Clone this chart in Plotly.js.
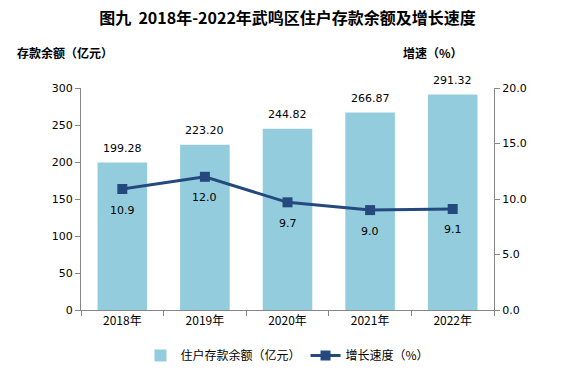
<!DOCTYPE html>
<html><head><meta charset="utf-8">
<script src="https://cdn.plot.ly/plotly-3.0.1.min.js"></script>
<style>body{margin:0;padding:0;background:#fff}#chart{width:575px;height:373px}</style>
</head><body><div id="chart"></div>
<script>
var years = ['2018年','2019年','2020年','2021年','2022年'];
var deposits = [199.28, 223.20, 244.82, 266.87, 291.32];
var growth = [10.9, 12.0, 9.7, 9.0, 9.1];

var cjk = '"Noto Sans CJK SC", "Microsoft YaHei", sans-serif';
var num = '"DejaVu Sans", Tahoma, sans-serif';

var barTrace = {
  type: 'bar', x: years, y: deposits, name: '住户存款余额（亿元）',
  marker: {color: '#93CDDD'}, yaxis: 'y', hoverinfo: 'none'
};
var lineTrace = {
  type: 'scatter', mode: 'lines+markers', x: years, y: growth, name: '增长速度（%）',
  yaxis: 'y2', line: {color: '#24497F', width: 3},
  marker: {symbol: 'square', size: 10, color: '#24497F'}, hoverinfo: 'none'
};

var annotations = [];
years.forEach(function(yr, i){
  annotations.push({x: yr, y: deposits[i], xref: 'x', yref: 'y', text: deposits[i].toFixed(2),
    showarrow: false, yshift: 14, font: {family: num, size: 11, color: '#000'}});
  annotations.push({x: yr, y: growth[i], xref: 'x', yref: 'y2', text: growth[i].toFixed(1),
    showarrow: false, yshift: -21, font: {family: num, size: 11, color: '#000'}});
});
annotations.push({xref: 'paper', yref: 'paper', x: -0.16, y: 1.16, xanchor: 'left', yanchor: 'middle',
  text: '<b>存款余额（亿元）</b>', showarrow: false, font: {family: cjk, size: 12, color: '#000'}});
annotations.push({xref: 'paper', yref: 'paper', x: 0.93, y: 1.16, xanchor: 'right', yanchor: 'middle',
  text: '<b>增速（%）</b>', showarrow: false, font: {family: cjk, size: 12, color: '#000'}});

var layout = {
  width: 575, height: 373,
  margin: {l: 81, r: 81, t: 88, b: 63, autoexpand: false},
  paper_bgcolor: '#fff', plot_bgcolor: '#fff',
  title: {text: '<b>图九  2018年-2022年武鸣区住户存款余额及增长速度</b>', x: 0.5, xanchor: 'center',
    y: 0.95, yanchor: 'middle', font: {family: cjk, size: 16, color: '#000'}},
  bargap: 0.4,
  showlegend: true,
  legend: {orientation: 'h', x: 0.5, xanchor: 'center', y: -0.14, yanchor: 'top',
    font: {family: cjk, size: 12, color: '#000'}, traceorder: 'normal'},
  xaxis: {type: 'category', showline: true, linecolor: '#868686', linewidth: 1,
    ticks: 'outside', tickson: 'boundaries', ticklen: 5, tickcolor: '#868686',
    tickfont: {family: cjk, size: 12, color: '#000'}, showgrid: false, zeroline: false},
  yaxis: {range: [0, 300], dtick: 50, showline: true, linecolor: '#868686', ticks: 'outside',
    ticklen: 5, tickcolor: '#868686', showgrid: false, zeroline: false,
    tickfont: {family: num, size: 11, color: '#000'}},
  yaxis2: {range: [0, 20], dtick: 5, tickformat: '.1f', overlaying: 'y', side: 'right',
    showline: true, linecolor: '#868686', ticks: 'outside', ticklen: 5, tickcolor: '#868686',
    showgrid: false, zeroline: false, tickfont: {family: num, size: 11, color: '#000'}},
  annotations: annotations
};

Plotly.newPlot('chart', [barTrace, lineTrace], layout, {displayModeBar: false, staticPlot: true});
</script></body></html>
